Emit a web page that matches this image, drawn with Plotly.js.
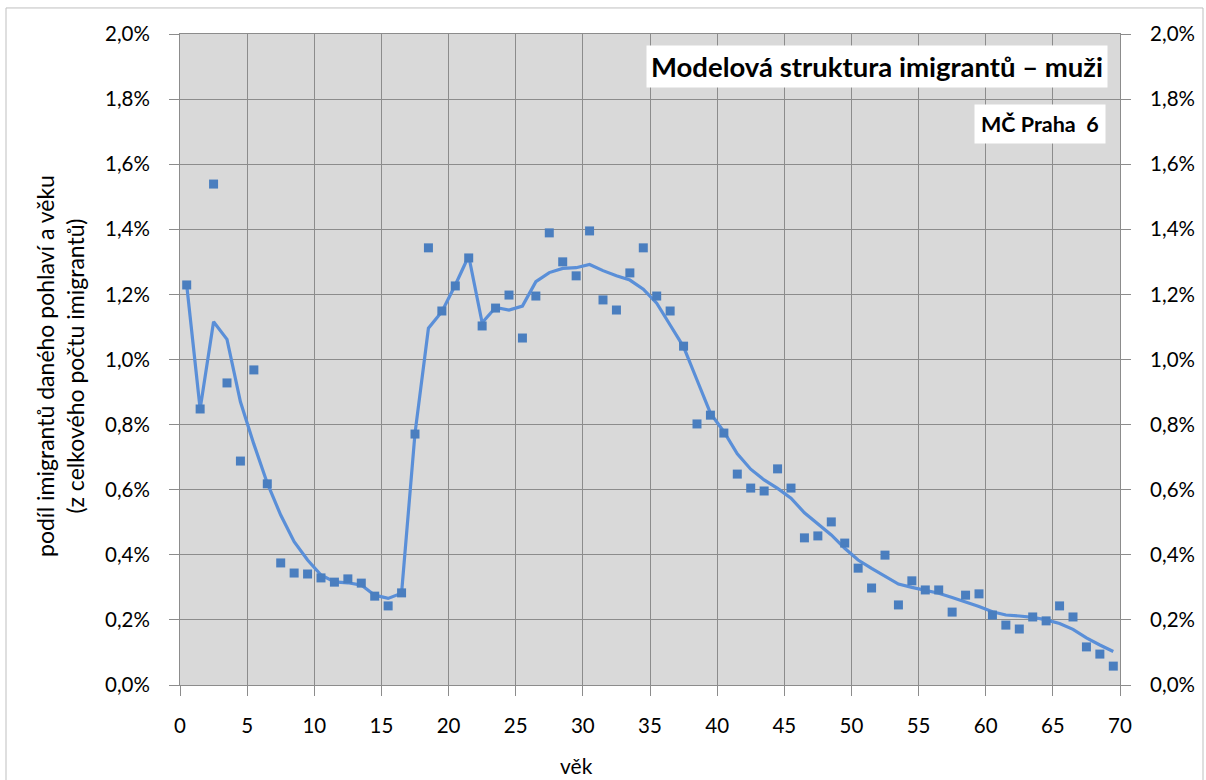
<!DOCTYPE html>
<html>
<head>
<meta charset="utf-8">
<script src="https://cdn.plot.ly/plotly-3.0.1.min.js"></script>
<style>
html,body{margin:0;padding:0;background:#fff;}
#chart{width:1206px;height:780px;}
</style>
</head>
<body>
<div id="chart"></div>
<script>
const ages = [0.5,1.5,2.5,3.5,4.5,5.5,6.5,7.5,8.5,9.5,10.5,11.5,12.5,13.5,14.5,15.5,16.5,17.5,18.5,19.5,20.5,21.5,22.5,23.5,24.5,25.5,26.5,27.5,28.5,29.5,30.5,31.5,32.5,33.5,34.5,35.5,36.5,37.5,38.5,39.5,40.5,41.5,42.5,43.5,44.5,45.5,46.5,47.5,48.5,49.5,50.5,51.5,52.5,53.5,54.5,55.5,56.5,57.5,58.5,59.5,60.5,61.5,62.5,63.5,64.5,65.5,66.5,67.5,68.5,69.5];
const observed = [1.229,0.848,1.539,0.928,0.688,0.968,0.618,0.375,0.344,0.341,0.329,0.316,0.326,0.313,0.273,0.243,0.283,0.771,1.343,1.149,1.226,1.312,1.103,1.158,1.198,1.066,1.195,1.389,1.300,1.257,1.395,1.183,1.152,1.266,1.343,1.195,1.149,1.041,0.802,0.829,0.774,0.648,0.605,0.596,0.664,0.605,0.452,0.458,0.501,0.436,0.359,0.298,0.399,0.246,0.320,0.292,0.292,0.224,0.276,0.280,0.215,0.184,0.172,0.209,0.197,0.243,0.209,0.117,0.095,0.058];
const model = [1.229,0.848,1.116,1.062,0.870,0.740,0.620,0.522,0.440,0.384,0.338,0.317,0.314,0.307,0.276,0.266,0.282,0.773,1.096,1.147,1.229,1.318,1.113,1.160,1.152,1.164,1.239,1.267,1.280,1.282,1.292,1.273,1.257,1.244,1.216,1.173,1.106,1.039,0.937,0.835,0.778,0.710,0.663,0.630,0.604,0.574,0.529,0.495,0.461,0.420,0.384,0.358,0.333,0.310,0.300,0.292,0.282,0.269,0.256,0.241,0.225,0.215,0.212,0.208,0.200,0.189,0.171,0.145,0.123,0.103];
const xTicks = [0,5,10,15,20,25,30,35,40,45,50,55,60,65,70];
const yTicks = [0,0.2,0.4,0.6,0.8,1.0,1.2,1.4,1.6,1.8,2.0];
const yTickText = ['0,0%','0,2%','0,4%','0,6%','0,8%','1,0%','1,2%','1,4%','1,6%','1,8%','2,0%'];
const titleText = 'Modelová struktura imigrantů – muži';
const subText = 'MČ Praha  6';
const yTitle = 'podíl imigrantů daného pohlaví a věku<br>(z celkového počtu imigrantů)';
const xTitle = 'věk';

const font = 'Lato, "Open Sans", sans-serif';
const gridCol = '#8c8c8c';

const traces = [
  {x: ages, y: model, type: 'scatter', mode: 'lines',
   line: {color: '#5a8fd8', width: 3.2}, hoverinfo: 'skip', showlegend: false},
  {x: ages, y: observed, type: 'scatter', mode: 'markers',
   marker: {symbol: 'square', size: 9, color: '#4a7ebf'}, showlegend: false},
  {x: [ages[0]], y: [observed[0]], type: 'scatter', mode: 'markers', yaxis: 'y2',
   marker: {opacity: 0}, hoverinfo: 'skip', showlegend: false}
];

const axisY = {
  range: [0, 2.0], tickmode: 'array', tickvals: yTicks, ticktext: yTickText,
  showgrid: true, gridcolor: gridCol, gridwidth: 1,
  ticks: 'outside', ticklen: 10, tickcolor: gridCol, ticklabelstandoff: 15,
  showline: true, linecolor: gridCol, linewidth: 1,
  zeroline: false, fixedrange: true,
  tickfont: {family: font, size: 20.5, color: '#000'}
};

const layout = {
  width: 1206, height: 780,
  margin: {l: 180, r: 86, t: 34, b: 95},
  paper_bgcolor: '#ffffff', plot_bgcolor: '#d9d9d9',
  font: {family: font, color: '#000'},
  xaxis: {
    range: [0, 70], tickvals: xTicks, showgrid: true, gridcolor: gridCol, gridwidth: 1,
    ticks: 'outside', ticklen: 10, tickcolor: gridCol, ticklabelstandoff: 12,
    showline: true, linecolor: gridCol, mirror: true, zeroline: false,
    tickfont: {family: font, size: 20.5, color: '#000'}
  },
  yaxis: axisY,
  yaxis2: Object.assign({}, axisY, {overlaying: 'y', side: 'right', showgrid: false}),
  annotations: [
    {xref: 'paper', yref: 'paper', x: 0.987, y: 0.983, xanchor: 'right', yanchor: 'top',
     text: '<b>' + titleText + '</b>', showarrow: false,
     font: {family: font, size: 27.5, color: '#000'}, bgcolor: '#ffffff', borderpad: 4},
    {xref: 'paper', yref: 'paper', x: 0.985, y: 0.892, xanchor: 'right', yanchor: 'top',
     text: '<b>' + subText + '</b>', showarrow: false,
     font: {family: font, size: 21.5, color: '#000'}, bgcolor: '#ffffff', borderpad: 6},
    {xref: 'paper', yref: 'paper', x: -0.1277, y: 0.49, xanchor: 'center', yanchor: 'middle',
     text: yTitle, textangle: -90, showarrow: false,
     font: {family: font, size: 23, color: '#000'}},
    {xref: 'paper', yref: 'paper', x: 0.422, y: -0.123, xanchor: 'center', yanchor: 'middle',
     text: xTitle, showarrow: false,
     font: {family: font, size: 21, color: '#000'}}
  ],
  shapes: [
    {type: 'rect', xref: 'paper', yref: 'paper', x0: -0.1851, x1: 1.0883, y0: -0.2, y1: 1.04,
     line: {color: '#bfbfbf', width: 1}, fillcolor: 'rgba(0,0,0,0)', layer: 'below'}
  ]
};

Plotly.newPlot('chart', traces, layout, {displayModeBar: false, staticPlot: true});
</script>
</body>
</html>
